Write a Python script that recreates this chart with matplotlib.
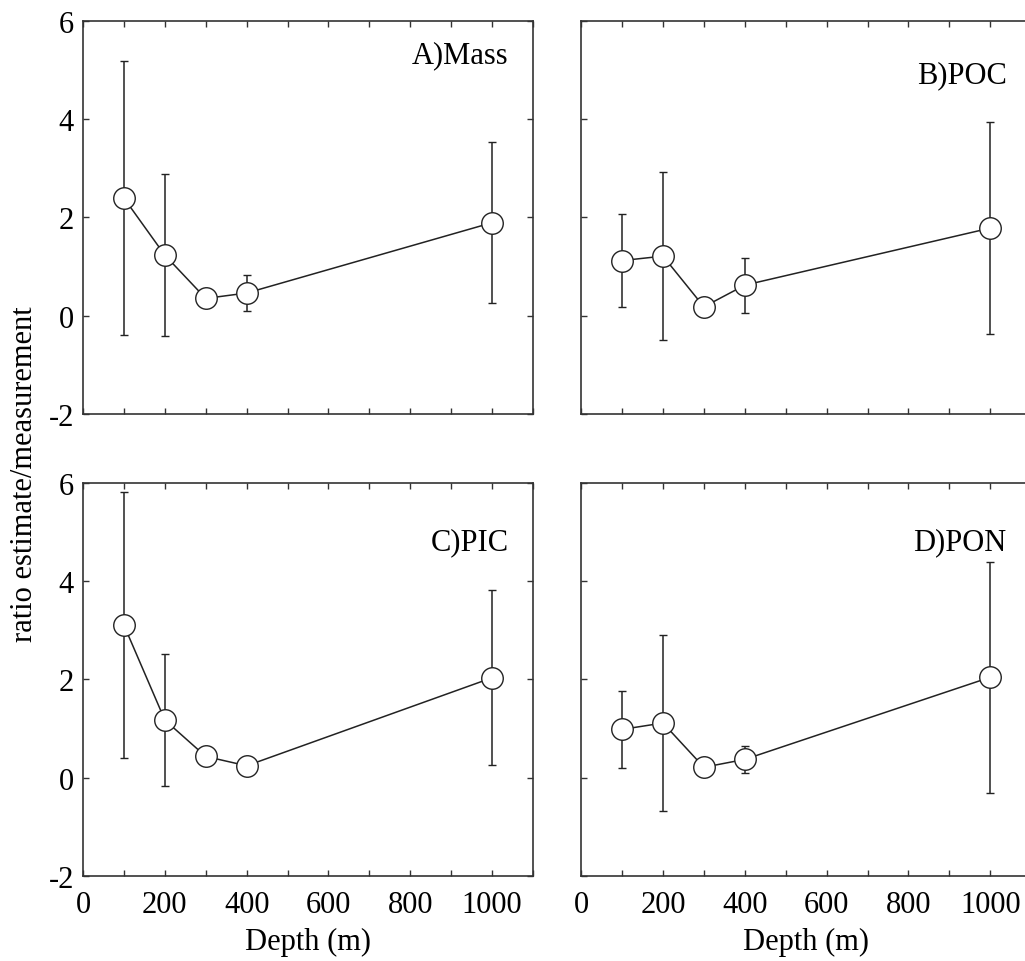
import matplotlib
matplotlib.use('Agg')
import matplotlib.pyplot as plt

# depths (m)
depth = [100, 200, 300, 400, 1000]

# ratio estimate/measurement and error bar half-lengths, per panel
mass = [2.39, 1.23, 0.35, 0.46, 1.89]
mass_err = [2.79, 1.65, 0.0, 0.37, 1.64]

poc = [1.12, 1.21, 0.18, 0.62, 1.78]
poc_err = [0.95, 1.71, 0.0, 0.56, 2.16]

pic = [3.10, 1.17, 0.43, 0.24, 2.03]
pic_err = [2.70, 1.34, 0.0, 0.0, 1.78]

pon = [0.98, 1.11, 0.21, 0.37, 2.04]
pon_err = [0.79, 1.78, 0.0, 0.27, 2.35]

titles = ['A)Mass', 'B)POC', 'C)PIC', 'D)PON']
title_y = [5.3, 4.9, 4.8, 4.8]

plt.rcParams['font.family'] = ['Liberation Serif', 'DejaVu Serif']
plt.rcParams['axes.unicode_minus'] = False

fig = plt.figure(figsize=(10.25, 9.62), dpi=100)

# axes placed by hand; the right column runs slightly past the figure edge
positions = [
    [0.081, 0.5686, 0.439, 0.409],
    [0.567, 0.5686, 0.439, 0.409],
    [0.081, 0.0884, 0.439, 0.409],
    [0.567, 0.0884, 0.439, 0.409],
]
series = [(mass, mass_err), (poc, poc_err), (pic, pic_err), (pon, pon_err)]

for i, (vals, errs) in enumerate(series):
    ax = fig.add_axes(positions[i])
    ax.errorbar(depth, vals, yerr=errs, color='#222222', linewidth=1.1,
                elinewidth=1.1, capsize=3, capthick=1.1, marker='o',
                markersize=15.5, markerfacecolor='white',
                markeredgecolor='#222222', markeredgewidth=1.0, zorder=3)
    ax.set_xlim(0, 1100)
    ax.set_ylim(-2, 6)
    ax.set_xticks(range(0, 1101, 100))
    ax.set_xticklabels([str(d) if d % 200 == 0 and d <= 1000 else '' for d in range(0, 1101, 100)])
    ax.set_yticks([-2, 0, 2, 4, 6])
    ax.tick_params(direction='in', length=4, width=1.0, top=True, right=True,
                   labelsize=22, color='#333333')
    ax.tick_params(axis='x', pad=10)
    ax.tick_params(axis='y', pad=6.5)
    for s in ax.spines.values():
        s.set_linewidth(1.2)
        s.set_color('#333333')
    if i % 2 == 1:
        ax.set_yticklabels([])
    if i < 2:
        ax.set_xticklabels([])
    else:
        ax.set_xlabel('Depth (m)', fontsize=22, labelpad=6)
    ax.text(1040, title_y[i], titles[i], fontsize=22, ha='right', va='center')

fig.text(0.024, 0.507, 'ratio estimate/measurement', rotation=90,
         fontsize=22, ha='center', va='center')

fig.savefig('out.png', dpi=100)
